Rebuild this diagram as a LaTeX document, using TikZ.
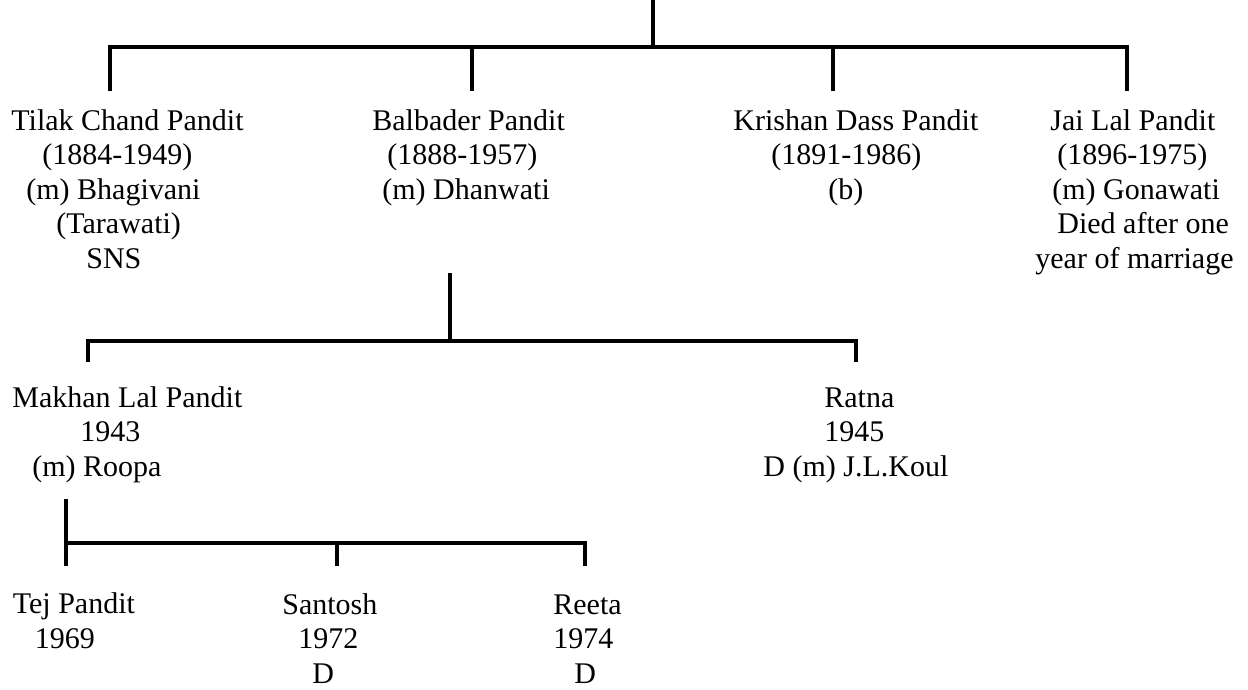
\documentclass[tikz,border=0pt]{standalone}
\usepackage{fontspec}
\setmainfont{Liberation Serif}
\tikzset{
  line/.style={line width=1.8pt},
  person/.style={anchor=base west, align=left, inner sep=0pt, font=\fontsize{15pt}{17.25pt}\selectfont}
}
\begin{document}
\begin{tikzpicture}[x=0.5pt,y=-0.5pt]
  \useasboundingbox (0,0) rectangle (1248,690);
  % first generation (nodes placed at the baseline of their last line)
  \node[person] (tilak) at (11,268) {Tilak Chand Pandit\\\hspace*{15.5pt}(1884-1949)\\\hspace*{7.5pt}(m) Bhagivani\\\hspace*{22.5pt}(Tarawati)\\\hspace*{37.5pt}SNS};
  \node[person] (balbader) at (372,199) {Balbader Pandit\\\hspace*{7.5pt}(1888-1957)\\\hspace*{5pt}(m) Dhanwati};
  \node[person] (krishan) at (733,199) {Krishan Dass Pandit\\\hspace*{19pt}(1891-1986)\\\hspace*{47.5pt}(b)};
  \node[person] (jai) at (1035,268) {\hspace*{7.5pt}Jai Lal Pandit\\\hspace*{11pt}(1896-1975)\\\hspace*{8.5pt}(m) Gonawati\\\hspace*{11pt}Died after one\\year of marriage};
  % second generation
  \node[person] (makhan) at (12,476) {Makhan Lal Pandit\\\hspace*{34pt}1943\\\hspace*{10pt}(m) Roopa};
  \node[person] (ratna) at (763,476) {\hspace*{30.5pt}Ratna\\\hspace*{30.5pt}1945\\D (m) J.L.Koul};
  % third generation
  \node[person] (tej) at (12.5,648) {Tej Pandit\\\hspace*{11pt}1969};
  \node[person] (santosh) at (282,683) {Santosh\\\hspace*{8pt}1972\\\hspace*{15pt}D};
  \node[person] (reeta) at (553,683) {Reeta\\1974\\\hspace*{10.5pt}D};

  % where the lines meet
  \coordinate (root) at (653,0);
  \coordinate (bar1) at (653,47);
  \coordinate (tilak-in) at (110,91);
  \coordinate (balbader-in) at (472,91);
  \coordinate (krishan-in) at (833,91);
  \coordinate (jai-in) at (1127,91);
  \coordinate (balbader-out) at (450,273);
  \coordinate (bar2) at (450,341);
  \coordinate (makhan-in) at (88,362);
  \coordinate (ratna-in) at (856,362);
  \coordinate (makhan-out) at (66,499);
  \coordinate (bar3) at (66,543);
  \coordinate (tej-in) at (66,566);
  \coordinate (santosh-in) at (337,566);
  \coordinate (reeta-in) at (585,566);

  \draw[line] (root) -- (bar1);
  \draw[line] (tilak-in) -- (tilak-in |- bar1) -- (jai-in |- bar1) -- (jai-in);
  \draw[line] (balbader-in |- bar1) -- (balbader-in);
  \draw[line] (krishan-in |- bar1) -- (krishan-in);

  \draw[line] (balbader-out) -- (bar2);
  \draw[line] (makhan-in) -- (makhan-in |- bar2) -- (ratna-in |- bar2) -- (ratna-in);

  \draw[line] (makhan-out) -- (bar3) -- (tej-in);
  \draw[line] (bar3) -- (reeta-in |- bar3) -- (reeta-in);
  \draw[line] (santosh-in |- bar3) -- (santosh-in);
\end{tikzpicture}
\end{document}
